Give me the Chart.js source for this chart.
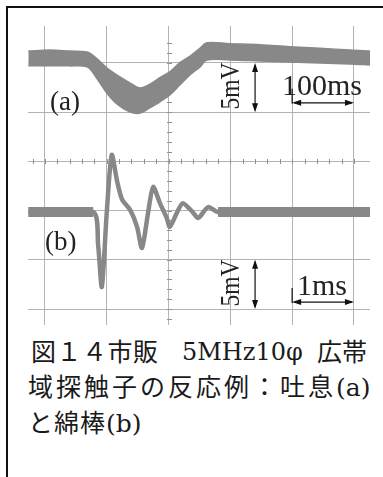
<!DOCTYPE html>
<html>
<head>
<meta charset="utf-8">
<script src="https://cdn.jsdelivr.net/npm/chart.js@4.4.0/dist/chart.umd.min.js"></script>
<style>
  html, body { margin:0; padding:0; background:#fff; }
  body { width:383px; height:477px; position:relative; overflow:hidden; }
  #frame { position:absolute; left:6px; top:6px; width:400px; height:480px;
           border-top:2px solid #111; border-left:2px solid #111; }
  #wrap { position:absolute; left:28px; top:26px; width:342px; height:299px; }
  .lbl { position:absolute; font-family:"Liberation Serif","DejaVu Serif",serif; color:#222; white-space:nowrap; line-height:1; }
  .rot { position:absolute; width:60px; height:28px; line-height:28px; text-align:center;
         font-family:"Liberation Serif",serif; font-size:28px; color:#222; transform:rotate(-90deg) scaleX(0.84); }
  .cap { position:absolute; font-size:25px; line-height:25px; color:#1a1a1a; white-space:nowrap;
         font-family:"DejaVu Serif","Noto Sans CJK JP",serif; }
</style>
</head>
<body>
<div id="frame"></div>
<div id="wrap"><canvas id="c"></canvas></div>

<div class="lbl" id="la" style="left:50px; top:88px; font-size:27px;">(a)</div>
<div class="lbl" id="lb" style="left:45px; top:228px; font-size:27px;">(b)</div>
<div class="lbl" id="t1" style="left:282px; top:70px; font-size:30px;">100ms</div>
<div class="lbl" id="t2" style="left:297px; top:270px; font-size:30px;">1ms</div>
<div class="rot" id="v1" style="left:200px; top:72px;">5mV</div>
<div class="rot" id="v2" style="left:200px; top:269px;">5mV</div>

<div class="cap" style="left:31px; top:340px; letter-spacing:0.5px;">図１４市販</div>
<div class="cap" style="left:182px; top:340px; font-size:24px;">5MHz10φ</div>
<div class="cap" style="left:317px; top:340px;">広帯</div>
<div class="cap" style="left:28px; top:375px;"><span style="letter-spacing:3px;">域探触子の反応例：吐息</span><span>(a)</span></div>
<div class="cap" style="left:28px; top:411px;"><span style="letter-spacing:1px;">と綿棒</span><span>(b)</span></div>

<script>
// ---- data (units: screen divisions) ----
const gridX = [0, 1, 2, 3, 4, 5];
const gridY = [0, 1, 2, 3, 4, 5];

// trace (a): breathing, 100 ms/div — upper and lower edges of the noisy band
const aX     = [-0.27, 0.08, 0.40, 0.68, 0.81, 1.00, 1.18, 1.38, 1.54, 1.70, 1.86, 2.02, 2.18, 2.35, 2.51, 2.62, 2.99, 3.48, 3.96, 4.45, 4.94, 5.26];
const aUpper = [5.24, 5.26, 5.24, 5.22, 5.12, 4.90, 4.74, 4.59, 4.49, 4.57, 4.70, 4.82, 5.00, 5.14, 5.30, 5.41, 5.39, 5.37, 5.33, 5.30, 5.26, 5.24];
const aLower = [4.94, 4.94, 4.94, 4.92, 4.74, 4.39, 4.15, 4.00, 3.98, 4.09, 4.21, 4.35, 4.55, 4.76, 4.92, 5.06, 5.06, 5.04, 5.02, 5.00, 4.98, 4.96];

// trace (b): cotton swab, 1 ms/div
const bX = [-0.27, 0.78, 0.86, 0.92, 1.00, 1.08, 1.17, 1.25, 1.38, 1.49, 1.57, 1.67, 1.75, 1.86, 1.97, 2.02, 2.14, 2.23, 2.39, 2.48, 2.64, 2.80, 5.26];
const bY = [1.97, 1.97, 1.30, 0.45, 1.97, 3.13, 2.58, 2.22, 2.01, 1.67, 1.24, 1.97, 2.48, 2.15, 1.85, 1.67, 1.97, 2.15, 1.97, 1.85, 2.07, 1.97, 1.97];

const labelsTime = ["100ms", "1ms"];
const labelVolt = "5mV";

// ---- build ----
const pts = (xs, ys) => xs.map((x, i) => ({ x: x, y: ys[i] }));
const TRACE = '#888888';

const minorTicks = {
  id: 'minorTicks',
  beforeDatasetsDraw(chart) {
    const { ctx, scales: { x, y } } = chart;
    ctx.save();
    ctx.strokeStyle = '#909090';
    ctx.lineWidth = 1;
    const cx = Math.round(x.getPixelForValue(2)) + 0.5;
    for (let v = -0.2; v <= 5.6; v += 0.2) {
      const py = Math.round(y.getPixelForValue(v)) + 0.5;
      ctx.beginPath(); ctx.moveTo(cx - 2.5, py); ctx.lineTo(cx + 2.5, py); ctx.stroke();
    }
    const cy = Math.round(y.getPixelForValue(3)) + 0.5;
    for (let v = -0.2; v <= 5.2; v += 0.2) {
      const px = Math.round(x.getPixelForValue(v)) + 0.5;
      ctx.beginPath(); ctx.moveTo(px, cy - 2.5); ctx.lineTo(px, cy + 2.5); ctx.stroke();
    }
    ctx.restore();
  }
};

function arrowHead(ctx, x, y, dx, dy) {
  const L = 9, W = 3;
  const nx = -dy, ny = dx;
  ctx.beginPath();
  ctx.moveTo(x, y);
  ctx.lineTo(x - dx * L + nx * W, y - dy * L + ny * W);
  ctx.lineTo(x - dx * L - nx * W, y - dy * L - ny * W);
  ctx.closePath();
  ctx.fill();
}

const scaleMarks = {
  id: 'scaleMarks',
  afterDatasetsDraw(chart) {
    const { ctx, scales: { x, y } } = chart;
    ctx.save();
    ctx.strokeStyle = '#111'; ctx.fillStyle = '#111'; ctx.lineWidth = 1.2;
    const vArrows = [[3.40, 5, 4], [3.40, 1, 0]];
    vArrows.forEach(([xv, y1, y2]) => {
      const px = x.getPixelForValue(xv), p1 = y.getPixelForValue(y1), p2 = y.getPixelForValue(y2);
      ctx.beginPath(); ctx.moveTo(px, p1 + 2); ctx.lineTo(px, p2 - 2); ctx.stroke();
      arrowHead(ctx, px, p1, 0, -1);
      arrowHead(ctx, px, p2, 0, 1);
    });
    const hArrows = [[4, 5, 4.19], [4, 5, 0.14]];
    hArrows.forEach(([x1, x2, yv]) => {
      const py = y.getPixelForValue(yv), p1 = x.getPixelForValue(x1), p2 = x.getPixelForValue(x2);
      ctx.beginPath(); ctx.moveTo(p1 + 2, py); ctx.lineTo(p2 - 2, py); ctx.stroke();
      arrowHead(ctx, p1, py, -1, 0);
      arrowHead(ctx, p2, py, 1, 0);
      ctx.beginPath(); ctx.moveTo(p1, py + 1); ctx.lineTo(p1, py - 14); ctx.stroke();
    });
    ctx.restore();
  }
};

const axisCommon = {
  type: 'linear',
  ticks: { display: false },
  border: { display: false },
  grid: { color: '#b3b3b3', lineWidth: 1, drawTicks: false }
};

new Chart(document.getElementById('c'), {
  type: 'line',
  data: {
    datasets: [
      { data: pts(aX, aUpper), borderColor: TRACE, backgroundColor: TRACE, borderWidth: 1.5,
        fill: '+1', pointRadius: 0, tension: 0.35 },
      { data: pts(aX, aLower), borderColor: TRACE, borderWidth: 1.5, fill: false, pointRadius: 0, tension: 0.35 },
      { data: pts(bX.slice(0, 2), bY.slice(0, 2)), borderColor: TRACE, borderWidth: 10, fill: false, pointRadius: 0 },
      { data: pts(bX.slice(-2), bY.slice(-2)), borderColor: TRACE, borderWidth: 10, fill: false, pointRadius: 0 },
      { data: pts(bX, bY), borderColor: TRACE, borderWidth: 4.5, fill: false, pointRadius: 0, tension: 0.25 }
    ]
  },
  options: {
    responsive: true, maintainAspectRatio: false, animation: false,
    layout: { padding: 0 },
    plugins: { legend: { display: false }, tooltip: { enabled: false } },
    scales: {
      x: Object.assign({}, axisCommon, { min: -0.275, max: 5.26,
        afterBuildTicks: s => { s.ticks = gridX.map(v => ({ value: v })); } }),
      y: Object.assign({}, axisCommon, { min: -0.325, max: 5.75,
        afterBuildTicks: s => { s.ticks = gridY.map(v => ({ value: v })); } })
    }
  },
  plugins: [minorTicks, scaleMarks]
});

document.getElementById('t1').textContent = labelsTime[0];
document.getElementById('t2').textContent = labelsTime[1];
document.getElementById('v1').textContent = labelVolt;
document.getElementById('v2').textContent = labelVolt;
</script>
</body>
</html>
